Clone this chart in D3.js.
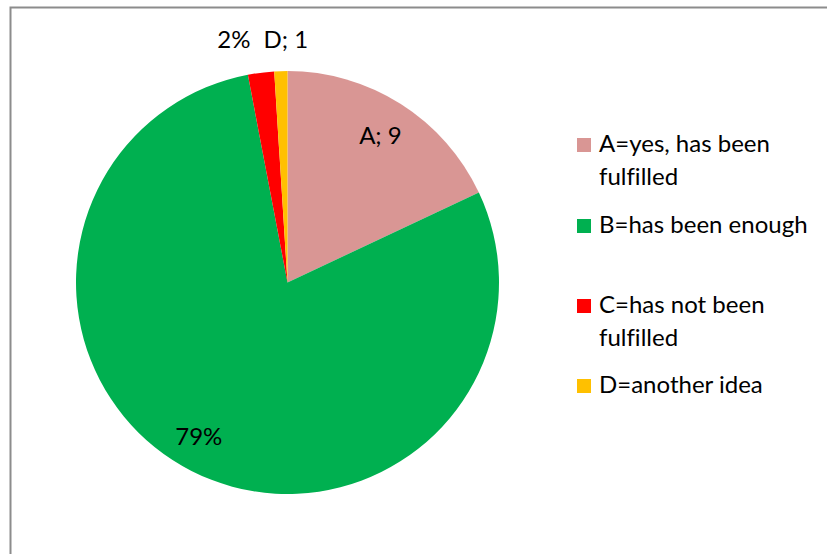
<!DOCTYPE html>
<html lang="en">
<head>
    <meta charset="UTF-8">
    <title>Pie chart</title>
    <script src="https://d3js.org/d3.v7.min.js"></script>
    <style>
        body { margin: 0; background: #fff; }
        svg { display: block; }
        text { font-family: Lato, "Open Sans", sans-serif; fill: #000; font-variant-ligatures: none; }
    </style>
</head>
<body>
<svg width="827" height="554" id="canvas"></svg>

<script>
    // data (share of answers, in %)
    const categories = ["A", "B", "C", "D"];
    const values = [18, 79, 2, 1];
    const sliceLabels = ["A; 9", "79%", "2%", "D; 1"];
    const legendLines = [["A=yes, has been", "fulfilled"], ["B=has been enough"], ["C=has not been", "fulfilled"], ["D=another idea"]];
    const colors = ["#D99694", "#00B050", "#FF0000", "#FFC000"];

    let svg = d3.select("svg");

    // chart area frame (runs off the right/bottom of the picture)
    svg.append("rect")
        .attr("x", 10.5).attr("y", 7.5)
        .attr("width", 840).attr("height", 570)
        .attr("fill", "#fff")
        .attr("stroke", "#8c8c8c")
        .attr("stroke-width", 2);

    const cx = 287.5, cy = 282.5, r = 211.5;

    const data = categories.map((c, i) => ({cat: c, value: values[i], label: sliceLabels[i], color: colors[i]}));

    const pie = d3.pie().value(d => d.value).sort(null);
    const arc = d3.arc().innerRadius(0).outerRadius(r);
    const arcs = pie(data);

    let g = svg.append("g").attr("transform", `translate(${cx},${cy})`);

    g.selectAll("path")
        .data(arcs)
        .enter()
        .append("path")
        .attr("d", arc)
        .attr("fill", d => d.data.color);

    // label placement: A and B inside the slice, C and D above the pie
    const labelRadius = [0.82, 0.82];
    const labelShift = [0, -10];
    const anchors = ["middle", "middle", "end", "start"];
    const labelFont = 24;

    g.selectAll(".lbl")
        .data(arcs)
        .enter()
        .append("text")
        .attr("class", "lbl")
        .attr("text-anchor", (d, i) => anchors[i])
        .attr("font-size", labelFont)
        .attr("dy", "0.35em")
        .attr("x", (d, i) => {
            if (i === 2) return -37;
            if (i === 3) return -24;
            let a = (d.startAngle + d.endAngle) / 2;
            return Math.sin(a) * r * labelRadius[i] + labelShift[i];
        })
        .attr("y", (d, i) => {
            if (i >= 2) return 40 - cy;
            let a = (d.startAngle + d.endAngle) / 2;
            return -Math.cos(a) * r * labelRadius[i];
        })
        .text(d => d.data.label);

    // legend
    const legendX = 577, legendTop = [138, 219, 299, 379], lineGap = 33;

    let lg = svg.append("g");
    data.forEach((d, i) => {
        lg.append("rect")
            .attr("x", legendX).attr("y", legendTop[i])
            .attr("width", 14).attr("height", 14)
            .attr("fill", d.color);
        legendLines[i].forEach((line, j) => {
            lg.append("text")
                .attr("x", legendX + 22)
                .attr("y", legendTop[i] + 14 + j * lineGap)
                .attr("font-size", labelFont)
                .text(line);
        });
    });
</script>
</body>
</html>
